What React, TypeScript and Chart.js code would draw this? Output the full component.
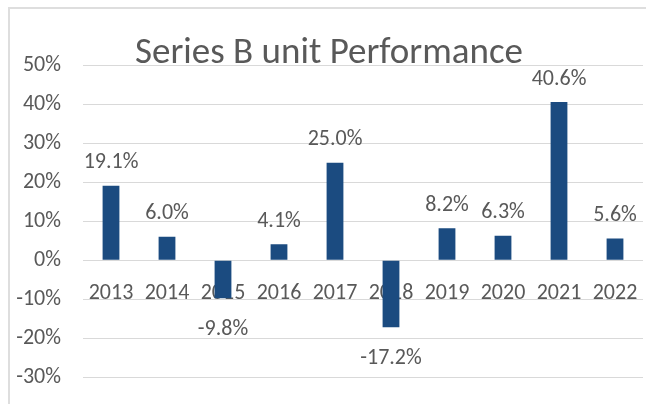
import React, { useEffect, useRef } from "react";
import { Chart, registerables } from "chart.js";

Chart.register(...registerables);

const TITLE = "Series B unit Performance";
const categories = ["2013", "2014", "2015", "2016", "2017", "2018", "2019", "2020", "2021", "2022"];
const performance = [19.1, 6.0, -9.8, 4.1, 25.0, -17.2, 8.2, 6.3, 40.6, 5.6];
const yMin = -30;
const yMax = 50;
const yStep = 10;

const FONT = "Carlito, Lato, 'Liberation Sans', sans-serif";
const TEXT = "#595959";
const BAR = "#1b4b80";
const GRID = "#d9d9d9";

const titlePlugin = {
  id: "customTitle",
  afterDraw(chart: any) {
    const ctx = chart.ctx;
    ctx.save();
    ctx.font = `37px ${FONT}`;
    ctx.fillStyle = TEXT;
    ctx.textAlign = "center";
    ctx.textBaseline = "alphabetic";
    ctx.fillText(TITLE, chart.width / 2, 54);
    ctx.restore();
  },
};

const labelPlugin = {
  id: "barLabels",
  afterDatasetsDraw(chart: any) {
    const ctx = chart.ctx;
    const meta = chart.getDatasetMeta(0);
    const data = chart.data.datasets[0].data as number[];
    ctx.save();
    ctx.font = `22px ${FONT}`;
    ctx.fillStyle = TEXT;
    ctx.textAlign = "center";
    ctx.textBaseline = "alphabetic";
    meta.data.forEach((el: any, i: number) => {
      const v = data[i];
      const txt = v.toFixed(1) + "%";
      const y = v >= 0 ? el.y - 17.5 : el.y + 37;
      ctx.fillText(txt, el.x, y);
    });
    ctx.restore();
  },
};

export default function App() {
  const ref = useRef<HTMLCanvasElement | null>(null);
  useEffect(() => {
    if (!ref.current) return;
    const chart = new Chart(ref.current, {
      type: "bar",
      data: {
        labels: categories,
        datasets: [
          {
            data: performance,
            backgroundColor: BAR,
            barPercentage: 0.3,
            categoryPercentage: 1,
          },
        ],
      },
      options: {
        animation: false,
        responsive: false,
        maintainAspectRatio: false,
        layout: { padding: { top: 56.5, bottom: 52, left: 0, right: 5 } },
        plugins: { legend: { display: false }, tooltip: { enabled: false }, title: { display: false } },
        font: { family: FONT },
        scales: {
          x: {
            position: { y: 0 } as any,
            grid: { display: false, drawTicks: true, tickLength: 20 },
            border: { display: false },
            ticks: { padding: 0, color: TEXT, font: { family: FONT, size: 22 }, maxRotation: 0, autoSkip: false },
          },
          y: {
            min: yMin,
            max: yMax,
            grid: { color: GRID, lineWidth: 1, drawTicks: false },
            border: { display: false },
            afterFit: (scale: any) => {
              scale.width = 73;
            },
            ticks: {
              stepSize: yStep,
              padding: 22,
              color: TEXT,
              font: { family: FONT, size: 22 },
              callback: (v: any) => `${v}%`,
            },
          },
        },
      } as any,
      plugins: [labelPlugin, titlePlugin],
    });
    return () => chart.destroy();
  }, []);
  return (
    <div
      style={{
        position: "fixed",
        left: 8,
        top: 7,
        border: "2px solid #dedede",
        background: "#fff",
        width: 638,
        height: 420,
      }}
    >
      <canvas ref={ref} width={638} height={420} style={{ display: "block" }} />
    </div>
  );
}
